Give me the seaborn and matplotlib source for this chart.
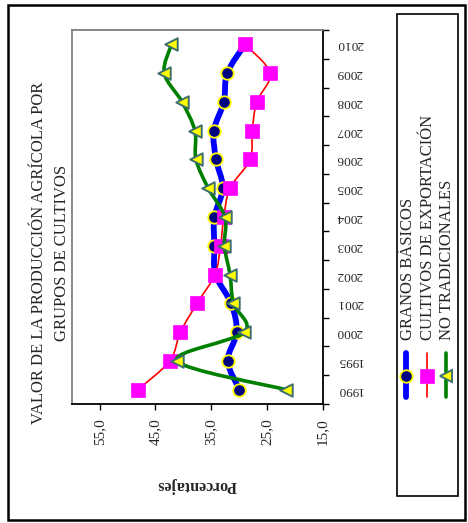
import numpy as np
import pandas as pd
import matplotlib
matplotlib.use("Agg")
import matplotlib.pyplot as plt
import seaborn as sns
from matplotlib.path import Path
from matplotlib.patches import PathPatch, Rectangle
from matplotlib.lines import Line2D

# ---- data ----
years = ["1990", "1995", "2000", "2001", "2002", "2003", "2004",
         "2005", "2006", "2007", "2008", "2009", "2010"]
granos_basicos = [29.9, 32.0, 30.4, 31.4, 34.2, 34.4, 34.4, 32.9, 34.1, 34.5, 32.7, 32.1, 28.9]
cultivos_exportacion = [48.1, 42.4, 40.5, 37.5, 34.3, 33.3, 32.7, 31.6, 28.0, 27.6, 26.8, 24.4, 28.9]
no_tradicionales = [21.6, 41.1, 29.0, 31.0, 31.6, 32.6, 32.5, 35.5, 37.7, 37.9, 40.2, 43.4, 42.1]
series_names = ["GRANOS BÁSICOS", "CULTIVOS DE EXPORTACIÓN", "NO TRADICIONALES"]
pct_ticks = [55, 45, 35, 25, 15]
pct_labels = ["55,0", "45,0", "35,0", "25,0", "15,0"]

sns.set_style("white")
plt.rcParams["font.family"] = ["Liberation Serif", "DejaVu Serif"]

W, H = 468, 523
fig = plt.figure(figsize=(W / 100, H / 100), dpi=100)


def fx(x):
    return x / W


def fy(y):
    return 1 - y / H


ax = fig.add_axes([fx(71.7), fy(404), fx(322.5) - fx(71.7), fy(30) - fy(404)])

pos = np.arange(len(years))
df = pd.DataFrame({"pos": pos, "g": granos_basicos, "c": cultivos_exportacion, "n": no_tradicionales})


def smooth_path(xs, ys):
    pts = np.column_stack([xs, ys]).astype(float)
    n = len(pts)
    verts = [pts[0]]
    codes = [Path.MOVETO]
    for i in range(n - 1):
        p0 = pts[i - 1] if i > 0 else pts[i]
        p1, p2 = pts[i], pts[i + 1]
        p3 = pts[i + 2] if i + 2 < n else pts[i + 1]
        c1 = p1 + (p2 - p0) / 6.0
        c2 = p2 - (p3 - p1) / 6.0
        verts += [c1, c2, p2]
        codes += [Path.CURVE4] * 3
    return Path(verts, codes)


styles = [
    ("g", "#0000FF", 4.2, "o", "#000080", "#FFFF00", 80, 1.3),
    ("c", "#FF0000", 1.2, "s", "#FF00FF", "#FF00FF", 95, 0.5),
    ("n", "#008000", 2.6, "<", "#FFFF00", "#3C6E70", 80, 1.4),
]

for i, (col, lc, lw, mk, mfc, mec, ms, mew) in enumerate(styles):
    z = 2 + i * 2
    ax.add_patch(PathPatch(smooth_path(df[col], df["pos"]), facecolor="none",
                           edgecolor=lc, lw=lw, zorder=z, capstyle="round", joinstyle="round"))
    sns.scatterplot(data=df, x=col, y="pos", marker=mk, s=ms, color=mfc,
                    edgecolor=mec, linewidth=mew, ax=ax, zorder=z + 1, legend=False)

ax.set_xlim(60, 15)
ax.set_ylim(-0.5, len(years) - 0.5)

# x axis (percent) at bottom
ax.set_xticks(pct_ticks)
ax.set_xticklabels(pct_labels, fontsize=11)
ax.tick_params(axis="x", direction="out", length=4, width=1, color="black",
               labelrotation=90, pad=6, bottom=True, top=False)

# y axis (years) at right
ax.yaxis.tick_right()
ax.set_yticks(np.arange(-0.5, len(years), 1))
ax.set_yticklabels([])
ax.set_yticks(pos, minor=True)
ax.set_yticklabels(years, minor=True, fontsize=9.5)
ax.tick_params(axis="y", which="major", direction="out", length=4, width=1,
               color="black", right=True, left=False)
ax.tick_params(axis="y", which="minor", length=0, pad=10, labelrotation=180,
               right=True, left=False)
for t in ax.get_yticklabels(minor=True):
    t.set_va("center")

ax.set_xlabel("Porcentajes", fontsize=11.5, fontweight="bold", rotation=180)
ax.xaxis.set_label_coords(0.5, (404 - 485) / 374)
ax.xaxis.label.set_va("center")
ax.set_ylabel("")

for side in ["left", "top"]:
    ax.spines[side].set_color("#808080")
    ax.spines[side].set_linewidth(1.3)
for side in ["right", "bottom"]:
    ax.spines[side].set_color("black")
    ax.spines[side].set_linewidth(1.3)

# title
fig.text(fx(39), fy(253), "VALOR DE LA PRODUCCIÓN AGRÍCOLA POR", rotation=90,
         ha="center", va="center", fontsize=12)
fig.text(fx(62), fy(253), "GRUPOS DE CULTIVOS", rotation=90,
         ha="center", va="center", fontsize=12)

# legend box
fig.add_artist(Rectangle((fx(396.5), fy(496)), fx(458) - fx(396.5), fy(14) - fy(496),
                         transform=fig.transFigure, facecolor="white",
                         edgecolor="black", lw=1.2))
leg_x = [406, 426.7, 445.5]
txt_x = [407.5, 427.5, 446.8]
for i, (col, lc, lw, mk, mfc, mec, ms, mew) in enumerate(styles):
    fig.add_artist(Line2D([fx(leg_x[i])] * 2, [fy(353), fy(397)], transform=fig.transFigure,
                          color=lc, lw=lw, solid_capstyle="round"))
    fig.add_artist(Line2D([fx(leg_x[i])], [fy(376)], transform=fig.transFigure,
                          marker=mk, markersize=np.sqrt(ms), markerfacecolor=mfc,
                          markeredgecolor=mec, markeredgewidth=mew, linestyle="none"))
    fig.text(fx(txt_x[i]), fy(340), series_names[i], rotation=90, ha="center",
             va="bottom", fontsize=12)

# outer frame
fig.add_artist(Rectangle((fx(8), fy(520)), fx(465) - fx(8), fy(5) - fy(520),
                         transform=fig.transFigure, facecolor="none",
                         edgecolor="black", lw=1.8))

fig.savefig("out.png", dpi=100)
